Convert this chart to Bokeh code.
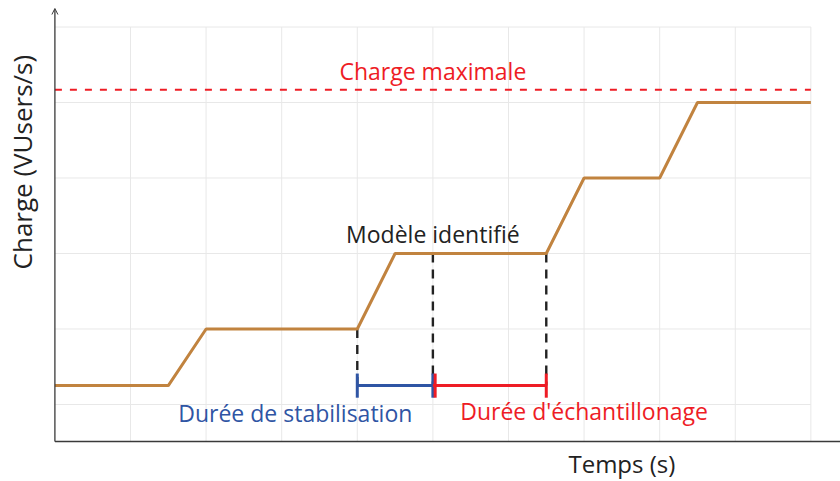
from bokeh.plotting import figure
from bokeh.models import Range1d, Arrow, OpenHead
from bokeh.core.properties import value
from bokeh.embed import file_html
from bokeh.resources import INLINE

# ---- data ----
load_t = [0, 1.5, 2, 4, 4.5, 6.5, 7, 8, 8.5, 10]
load_v = [0.25, 0.25, 1, 1, 2, 2, 3, 3, 4, 4]
max_load = 4.17
grid_x = [1, 2, 3, 4, 5, 6, 7, 8, 9, 10]
grid_y = [0, 1, 2, 3, 4, 5]
stab_start, stab_end, samp_end = 4, 5, 6.5
bracket_y = 0.25
mark_x = [stab_start, stab_end, samp_end]
mark_top = [1, 2, 2]

X0, X1 = -0.7196, 10.392
Y0, Y1 = -1.0199, 5.351
axis_y = -0.49
x_end = 10.5
y_tip = 5.245
grid_xmax, grid_ymax = 10, 5

FONT = "Open Sans"
FS = "23px"
ORANGE = "#c1833f"
RED = "#ee1c25"
BLUE = "#2f55a4"
GRID = "#e8e8e8"
AX = "#3a3a3a"
DARK = "#222222"

p = figure(width=840, height=481, x_range=Range1d(X0, X1), y_range=Range1d(Y0, Y1),
           output_backend="svg", toolbar_location=None,
           min_border=0, min_border_left=0, min_border_right=0,
           min_border_top=0, min_border_bottom=0)
p.axis.visible = False
p.grid.visible = False
p.outline_line_color = None
p.background_fill_color = "white"

# grid
p.segment(x0=grid_x, y0=[axis_y] * len(grid_x), x1=grid_x, y1=[grid_ymax] * len(grid_x),
          line_color=GRID, line_width=1)
p.segment(x0=[0] * len(grid_y), y0=grid_y, x1=[grid_xmax] * len(grid_y), y1=grid_y,
          line_color=GRID, line_width=1)

# axes
p.segment(x0=[0], y0=[axis_y], x1=[x_end], y1=[axis_y], line_color=AX, line_width=1.3)
p.add_layout(Arrow(end=OpenHead(size=6, line_width=1, line_color=AX), x_start=0, y_start=axis_y,
                   x_end=0, y_end=y_tip, line_color=AX, line_width=1.3))

# max load
p.line(x=[0, grid_xmax], y=[max_load, max_load], line_color=RED, line_width=2, line_dash="7 8")

# vertical markers
p.segment(x0=mark_x, y0=mark_top, x1=mark_x, y1=[bracket_y] * 3, line_color=DARK,
          line_width=2.4, line_dash="9 7")

# load
p.line(x=load_t, y=load_v, line_color=ORANGE, line_width=3)

# brackets
cap = 0.16
p.segment(x0=[stab_start], y0=[bracket_y], x1=[stab_end], y1=[bracket_y], line_color=BLUE, line_width=3)
p.segment(x0=[stab_start, stab_end], y0=[bracket_y - cap] * 2, x1=[stab_start, stab_end],
          y1=[bracket_y + cap] * 2, line_color=BLUE, line_width=3)
p.segment(x0=[stab_end], y0=[bracket_y], x1=[samp_end], y1=[bracket_y], line_color=RED, line_width=3)
p.segment(x0=[stab_end + 0.03, samp_end], y0=[bracket_y - cap] * 2, x1=[stab_end + 0.03, samp_end],
          y1=[bracket_y + cap] * 2, line_color=RED, line_width=3)

# texts
def txt(x, y, s, color, angle=0, size=FS):
    p.text(x=[x], y=[y], text=[s], text_color=color, text_font=value(FONT),
           text_font_size=size, text_align="center", text_baseline="middle", angle=angle)

txt(5, 4.42, "Charge maximale", RED)
txt(5, 2.26, "Modèle identifié", DARK)
txt(3.18, -0.11, "Durée de stabilisation", BLUE)
txt(7.0, -0.09, "Durée d'échantillonage", RED)
txt(7.5, -0.78, "Temps (s)", DARK, size="24px")
txt(-0.4286, 3.21, "Charge (VUsers/s)", DARK, angle=1.5708, size="26px")

open("out.html", "w").write(file_html(p, INLINE))
